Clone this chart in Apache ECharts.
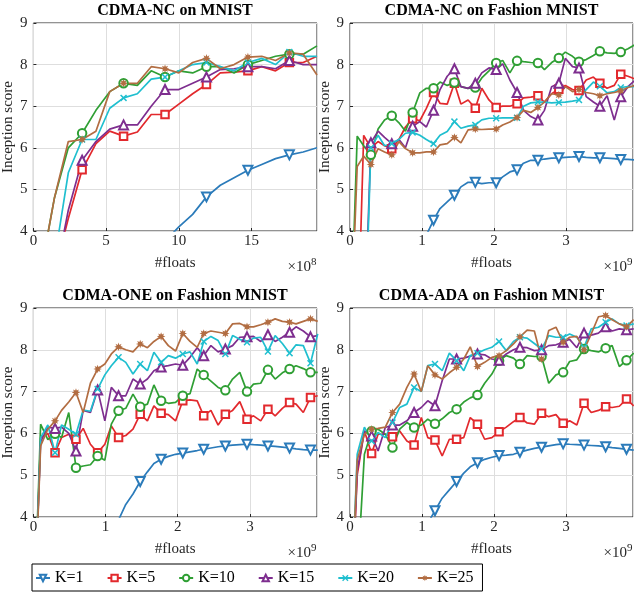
<!DOCTYPE html>
<html>
<head>
<meta charset="utf-8">
<script src="https://cdn.jsdelivr.net/npm/echarts@6/dist/echarts.min.js"></script>
<style>
  html, body { margin: 0; padding: 0; background: #fff; }
  #chart { width: 634px; height: 594px; }
</style>
</head>
<body>
<div id="chart"></div>
<script>
// ---- data ----
const kNames = ['K=1', 'K=5', 'K=10', 'K=15', 'K=20', 'K=25'];
const panelTitles = ['CDMA-NC on MNIST', 'CDMA-NC on Fashion MNIST', 'CDMA-ONE on Fashion MNIST', 'CDMA-ADA on Fashion MNIST'];
const xExponent = ['8', '9', '9', '9'];
const xMax = [19.5, 3.93, 3.93, 3.93];
const xStep = [5, 1, 1, 1];

// #floats (x10^8) for CDMA-NC on MNIST
const xNcMnist = [0.5, 1.45, 2.4, 3.35, 4.3, 5.25, 6.2, 7.15, 8.1, 9.05, 10, 10.95, 11.9, 12.85, 13.8, 14.75, 15.7, 16.65, 17.6, 18.55, 19.5];
// #floats (x10^9) for CDMA-NC on Fashion MNIST
const xNcFashion = [0, 0.1, 0.19, 0.29, 0.39, 0.48, 0.58, 0.68, 0.77, 0.87, 0.97, 1.06, 1.16, 1.25, 1.35, 1.45, 1.54, 1.64, 1.74, 1.83, 1.93,
  2.03, 2.12, 2.22, 2.32, 2.41, 2.51, 2.61, 2.7, 2.8, 2.9, 2.99, 3.09, 3.18, 3.28, 3.38, 3.47, 3.57, 3.67, 3.76, 3.86, 3.96];
// #floats (x10^9) for CDMA-ONE / CDMA-ADA on Fashion MNIST
const xFashion = [0, 0.1, 0.2, 0.3, 0.39, 0.49, 0.59, 0.69, 0.79, 0.89, 0.99, 1.08, 1.18, 1.28, 1.38, 1.48, 1.58, 1.67, 1.77, 1.87, 1.97,
  2.07, 2.17, 2.27, 2.36, 2.46, 2.56, 2.66, 2.76, 2.86, 2.96, 3.05, 3.15, 3.25, 3.35, 3.45, 3.55, 3.64, 3.74, 3.84, 3.94];

// CDMA-NC on MNIST
const ncMnistK1 = [1.2, 1.4, 1.6, 1.8, 2.0, 2.2, 2.4, 2.7, 3.1, 3.75, 4.1, 4.4, 4.82, 5.1, 5.28, 5.46, 5.6, 5.74, 5.83, 5.9, 6.0];
const ncMnistK5 = [2.0, 3.0, 4.3, 5.47, 6.1, 6.4, 6.28, 6.38, 6.8, 6.8, 7.05, 7.3, 7.52, 7.8, 7.82, 7.85, 7.95, 7.85, 8.05, 8.05, 8.2];
const ncMnistK10 = [3.0, 4.8, 6.0, 6.35, 6.9, 7.35, 7.55, 7.5, 7.85, 7.7, 7.85, 7.8, 7.95, 7.95, 7.8, 8.0, 8.1, 8.2, 8.25, 8.25, 8.45];
const ncMnistK15 = [2.0, 2.8, 4.5, 5.7, 6.15, 6.45, 6.55, 6.55, 7.0, 7.4, 7.4, 7.55, 7.7, 7.88, 7.9, 7.95, 7.95, 7.9, 8.1, 8.0, 8.0];
const ncMnistK20 = [2.3, 3.3, 5.4, 6.2, 6.2, 6.95, 7.2, 7.3, 7.65, 7.7, 7.85, 8.0, 8.05, 7.95, 7.85, 8.05, 8.15, 8.0, 8.3, 8.2, 8.2];
const ncMnistK25 = [3.0, 4.8, 6.15, 6.2, 6.4, 7.35, 7.55, 7.55, 7.95, 7.9, 7.8, 8.05, 8.15, 7.9, 8.0, 8.18, 8.2, 8.1, 8.28, 8.25, 7.75];

// CDMA-NC on Fashion MNIST
const ncFashionK1 = [2.0, 2.1, 2.2, 2.3, 2.45, 2.6, 2.75, 2.9, 3.1, 3.3, 3.55, 3.9, 4.26, 4.54, 4.7, 4.86, 5.06, 5.17, 5.17, 5.14, 5.16,
  5.16, 5.3, 5.42, 5.47, 5.63, 5.7, 5.7, 5.73, 5.75, 5.76, 5.77, 5.78, 5.79, 5.77, 5.76, 5.76, 5.75, 5.74, 5.72, 5.72, 5.71];
const ncFashionK5 = [1.0, 1.0, 6.3, 6.0, 6.15, 6.05, 5.98, 6.2, 6.5, 6.7, 6.65, 6.95, 7.33, 7.07, 7.05, 7.55, 7.05, 7.15, 6.95, 7.43, 7.15,
  6.97, 7.0, 7.0, 7.06, 7.2, 7.22, 7.25, 7.1, 7.3, 7.41, 7.5, 7.4, 7.38, 7.63, 7.7, 7.55, 7.43, 7.5, 7.77, 7.72, 7.65];
const ncFashionK10 = [1.0, 6.28, 6.05, 5.83, 6.45, 6.67, 6.77, 6.6, 6.4, 6.85, 7.32, 7.43, 7.43, 7.58, 7.5, 7.57, 7.47, 7.43, 7.45, 7.68, 7.85,
  8.04, 8.1, 7.8, 8.09, 8.07, 8.05, 8.04, 7.88, 8.05, 8.16, 8.3, 8.2, 8.07, 8.12, 8.22, 8.32, 8.28, 8.27, 8.3, 8.38, 8.48];
const ncFashionK15 = [1.0, 1.0, 1.0, 6.12, 6.4, 6.25, 6.1, 6.2, 6.0, 6.52, 6.63, 6.5, 6.9, 7.4, 7.72, 7.9, 7.47, 7.43, 7.55, 7.8, 7.92,
  7.88, 8.02, 7.63, 7.33, 6.9, 6.75, 6.67, 6.9, 7.47, 7.55, 8.15, 7.95, 7.92, 7.23, 7.1, 7.0, 7.25, 6.67, 7.23, 7.47, 7.63];
const ncFashionK20 = [0.5, 0.5, 0.5, 6.0, 6.3, 6.05, 6.1, 6.2, 6.35, 6.37, 6.3, 6.2, 6.1, 6.3, 6.39, 6.63, 6.47, 6.52, 6.55, 6.67, 6.71,
  6.71, 6.72, 6.72, 6.72, 7.0, 7.08, 7.1, 7.1, 7.08, 7.09, 7.1, 7.12, 7.15, 7.4, 7.58, 7.48, 7.32, 7.35, 7.45, 7.47, 7.47];
const ncFashionK25 = [1.0, 5.55, 5.8, 5.6, 5.98, 5.9, 5.83, 6.15, 5.98, 5.88, 5.88, 5.9, 5.9, 6.07, 6.1, 6.25, 6.12, 6.43, 6.45, 6.44, 6.45,
  6.45, 6.55, 6.62, 6.73, 6.9, 6.85, 6.97, 7.1, 7.3, 7.27, 7.47, 7.35, 7.4, 7.33, 7.3, 7.25, 7.3, 7.33, 7.37, 7.45, 7.5];

// CDMA-ONE on Fashion MNIST
const oneK1 = [1.0, 1.2, 1.4, 1.6, 1.8, 2.0, 2.3, 2.6, 2.9, 3.2, 3.4, 3.6, 3.93, 4.3, 4.55, 4.85, 5.08, 5.28, 5.38, 5.45, 5.5,
  5.53, 5.56, 5.59, 5.62, 5.65, 5.68, 5.7, 5.72, 5.73, 5.74, 5.73, 5.72, 5.7, 5.69, 5.67, 5.65, 5.63, 5.61, 5.6, 5.6];
const oneK5 = [1.0, 5.9, 6.0, 5.54, 5.9, 5.98, 5.86, 6.12, 5.74, 5.54, 5.74, 6.18, 5.9, 5.95, 6.1, 6.46, 6.3, 6.66, 6.48, 6.45, 6.3,
  6.78, 6.8, 6.78, 6.42, 6.55, 6.2, 6.46, 6.55, 6.76, 6.34, 6.42, 6.3, 6.58, 6.42, 6.6, 6.74, 6.7, 6.5, 6.86, 6.9];
const oneK10 = [1.0, 6.22, 5.85, 5.99, 5.9, 6.5, 5.18, 5.22, 5.25, 5.46, 5.36, 6.22, 6.54, 6.6, 6.94, 6.64, 6.7, 7.16, 6.78, 6.72, 6.74,
  6.9, 6.95, 7.54, 7.4, 7.25, 7.1, 7.03, 7.3, 7.46, 7.0, 7.18, 7.2, 7.52, 7.3, 7.45, 7.54, 7.62, 7.55, 7.46, 7.46];
const oneK15 = [1.0, 5.8, 6.15, 6.12, 6.15, 6.0, 5.58, 6.55, 6.5, 7.04, 6.3, 7.1, 6.9, 6.9, 7.3, 7.18, 7.3, 7.5, 7.59, 7.62, 7.66,
  7.63, 7.82, 8.05, 7.86, 8.1, 7.95, 8.02, 8.1, 8.3, 8.31, 8.32, 8.2, 8.36, 8.2, 8.3, 8.42, 8.55, 8.45, 8.31, 8.34];
const oneK20 = [1.0, 5.9, 6.2, 5.54, 6.2, 6.1, 5.98, 6.56, 6.53, 7.06, 7.4, 7.62, 7.82, 7.7, 7.42, 7.66, 7.5, 7.94, 7.7, 7.86, 7.8,
  7.9, 7.95, 7.66, 8.2, 8.32, 8.22, 7.9, 8.34, 8.25, 8.18, 8.28, 8.3, 7.96, 8.34, 8.15, 7.92, 8.12, 8.1, 7.68, 8.38];
const oneK25 = [1.0, 5.7, 6.1, 6.3, 6.55, 6.75, 6.98, 6.5, 7.2, 7.54, 7.66, 7.9, 8.07, 8.0, 7.95, 8.14, 8.05, 8.2, 8.32, 8.1, 7.97,
  8.39, 8.2, 8.06, 8.39, 8.45, 8.42, 8.39, 8.62, 8.63, 8.55, 8.55, 8.6, 8.66, 8.74, 8.68, 8.66, 8.62, 8.68, 8.74, 8.68];

// CDMA-ADA on Fashion MNIST
const adaK1 = [1.0, 1.2, 1.4, 1.6, 1.8, 2.0, 2.3, 2.6, 2.9, 3.2, 3.5, 3.85, 4.15, 4.45, 4.65, 4.85, 5.05, 5.2, 5.3, 5.38, 5.43,
  5.47, 5.48, 5.5, 5.55, 5.6, 5.64, 5.67, 5.7, 5.73, 5.75, 5.74, 5.73, 5.72, 5.71, 5.7, 5.68, 5.66, 5.64, 5.62, 5.6];
const adaK5 = [1.0, 5.0, 6.06, 5.52, 5.98, 5.98, 5.92, 6.06, 5.82, 5.72, 6.38, 5.9, 5.84, 5.46, 5.86, 5.86, 5.9, 6.38, 6.22, 5.86, 5.9,
  6.04, 6.15, 6.28, 6.38, 6.25, 6.22, 6.48, 6.4, 6.45, 6.24, 6.3, 6.2, 6.72, 6.5, 6.55, 6.64, 6.62, 6.65, 6.82, 6.66];
const adaK10 = [1.0, 2.5, 5.5, 6.05, 6.1, 5.98, 5.66, 6.1, 6.26, 6.14, 6.2, 6.34, 6.23, 6.35, 6.5, 6.58, 6.75, 6.85, 6.92, 7.2, 7.42,
  7.74, 7.86, 7.8, 7.66, 7.86, 7.84, 7.84, 7.2, 7.4, 7.46, 7.72, 7.76, 8.02, 7.98, 7.95, 8.04, 8.1, 7.6, 7.75, 7.92];
const adaK15 = [1.0, 5.1, 6.06, 5.94, 5.58, 6.14, 6.2, 6.2, 6.3, 6.5, 6.62, 6.78, 6.66, 7.26, 7.78, 7.78, 7.8, 7.85, 7.9, 7.88, 7.78,
  7.75, 7.9, 8.0, 8.06, 8.05, 7.98, 8.0, 8.1, 8.12, 8.18, 8.25, 8.05, 8.4, 8.35, 8.4, 8.55, 8.45, 8.5, 8.48, 8.5];
const adaK20 = [1.0, 5.5, 6.15, 5.82, 6.02, 5.9, 6.26, 6.62, 6.7, 7.1, 7.0, 7.62, 7.66, 7.5, 7.92, 7.74, 7.5, 7.86, 7.92, 8.0, 8.06,
  8.2, 7.98, 8.2, 8.3, 8.28, 8.15, 8.02, 8.34, 8.3, 8.3, 8.38, 8.3, 8.06, 8.5, 8.54, 8.66, 8.74, 8.62, 8.58, 8.62];
const adaK25 = [1.0, 5.36, 5.98, 6.1, 6.12, 6.15, 6.5, 6.7, 7.1, 7.42, 7.0, 7.62, 7.4, 7.3, 7.45, 7.58, 7.78, 8.07, 7.6, 7.7, 7.82,
  7.86, 7.98, 8.14, 8.31, 8.47, 8.45, 7.78, 8.46, 8.54, 8.18, 8.3, 8.32, 8.0, 8.38, 8.79, 8.82, 8.72, 8.62, 8.55, 8.72];

// ---- styling ----
const FONT = 'Liberation Serif';
const TXT = '#262626';
const kColors = ['#2b7bba', '#e2292d', '#2f9f34', '#7e2e8f', '#1fbfcf', '#b26d42'];

function starPath(points, outer, inner) {
  let d = '';
  for (let k = 0; k < points * 2; k++) {
    const r = k % 2 ? inner : outer;
    const a = Math.PI * k / points - Math.PI / 2;
    d += (k ? 'L' : 'M') + (10 + r * Math.cos(a)).toFixed(2) + ',' + (10 + r * Math.sin(a)).toFixed(2);
  }
  return 'path://' + d + 'Z';
}
const crossPath = 'path://M0,1.5L1.5,0L5,3.5L8.5,0L10,1.5L6.5,5L10,8.5L8.5,10L5,6.5L1.5,10L0,8.5L3.5,5Z';

const kSymbols = [
  { symbol: 'emptyTriangle', symbolRotate: 180, symbolSize: 9 },
  { symbol: 'emptyRect', symbolSize: 7.5 },
  { symbol: 'emptyCircle', symbolSize: 8.5 },
  { symbol: 'emptyTriangle', symbolSize: 9 },
  { symbol: crossPath, symbolSize: 7 },
  { symbol: starPath(8, 10, 5), symbolSize: 8.5 }
];

const grids = [
  { left: 33, top: 23, width: 284, height: 208 },
  { left: 350, top: 23, width: 283, height: 208 },
  { left: 33, top: 308, width: 284, height: 209 },
  { left: 350, top: 308, width: 283, height: 209 }
];

const panels = [
  { x: xNcMnist, ys: [ncMnistK1, ncMnistK5, ncMnistK10, ncMnistK15, ncMnistK20, ncMnistK25] },
  { x: xNcFashion, ys: [ncFashionK1, ncFashionK5, ncFashionK10, ncFashionK15, ncFashionK20, ncFashionK25] },
  { x: xFashion, ys: [oneK1, oneK5, oneK10, oneK15, oneK20, oneK25] },
  { x: xFashion, ys: [adaK1, adaK5, adaK10, adaK15, adaK20, adaK25] }
];

const xAxes = [], yAxes = [], series = [], graphics = [];

grids.forEach((gd, g) => {
  xAxes.push({
    type: 'value', gridIndex: g, min: 0, max: xMax[g], interval: xStep[g],
    name: '#floats', nameLocation: 'middle', nameGap: 25,
    nameTextStyle: { fontFamily: FONT, fontSize: 15, color: TXT },
    axisLine: { show: false },
    axisTick: { show: true, inside: true, length: 3, lineStyle: { color: TXT } },
    axisLabel: { fontFamily: FONT, fontSize: 15, color: TXT, margin: 3, showMaxLabel: false },
    splitLine: { show: true, lineStyle: { color: '#dedede', width: 1 } }
  });
  yAxes.push({
    type: 'value', gridIndex: g, min: 4, max: 9, interval: 1,
    name: 'Inception score', nameLocation: 'middle', nameGap: 9,
    nameTextStyle: { fontFamily: FONT, fontSize: 15, color: TXT },
    axisLine: { show: false },
    axisTick: { show: true, inside: true, length: 3, lineStyle: { color: TXT } },
    axisLabel: { fontFamily: FONT, fontSize: 15, color: TXT, margin: 6 },
    splitLine: { show: true, lineStyle: { color: '#dedede', width: 1 } }
  });

  const cx = gd.left + gd.width / 2;
  const right = gd.left + gd.width;
  const bottom = gd.top + gd.height;
  graphics.push({
    type: 'text', x: cx, y: gd.top - 12,
    style: { text: panelTitles[g], align: 'center', verticalAlign: 'middle', fontFamily: FONT, fontSize: 16, fontWeight: 'bold', fill: '#000' }
  });
  graphics.push({
    type: 'text', x: right - 6, y: bottom + 36,
    style: { text: '×10', align: 'right', verticalAlign: 'middle', fontFamily: FONT, fontSize: 15, fill: TXT }
  });
  graphics.push({
    type: 'text', x: right - 6, y: bottom + 31,
    style: { text: xExponent[g], align: 'left', verticalAlign: 'middle', fontFamily: FONT, fontSize: 11, fill: TXT }
  });

  const p = panels[g];
  p.ys.forEach((ys, k) => {
    series.push(Object.assign({
      name: kNames[k],
      type: 'line',
      xAxisIndex: g,
      yAxisIndex: g,
      data: ys.map((y, i) => (i > 0 && i % 3 === 0) ? { value: [p.x[i], y] } : { value: [p.x[i], y], symbol: 'none' }),
      showSymbol: true,
      clip: true,
      lineStyle: { color: kColors[k], width: 1.7 },
      itemStyle: { color: kColors[k], borderWidth: 1.3 },
      emphasis: { disabled: true }
    }, kSymbols[k]));
  });
});

const chart = echarts.init(document.getElementById('chart'));
chart.setOption({
  animation: false,
  backgroundColor: '#fff',
  grid: grids.map(gd => Object.assign({ show: true, borderColor: TXT, borderWidth: 1, backgroundColor: 'transparent' }, gd)),
  xAxis: xAxes,
  yAxis: yAxes,
  legend: {
    data: kNames,
    left: 32, top: 564,
    padding: [6, 9, 5, 3],
    itemWidth: 14, itemHeight: 8, itemGap: 23,
    borderColor: '#000', borderWidth: 1, backgroundColor: '#fff',
    textStyle: { fontFamily: FONT, fontSize: 16, color: '#000' }
  },
  graphic: graphics,
  series: series
});
</script>
</body>
</html>
